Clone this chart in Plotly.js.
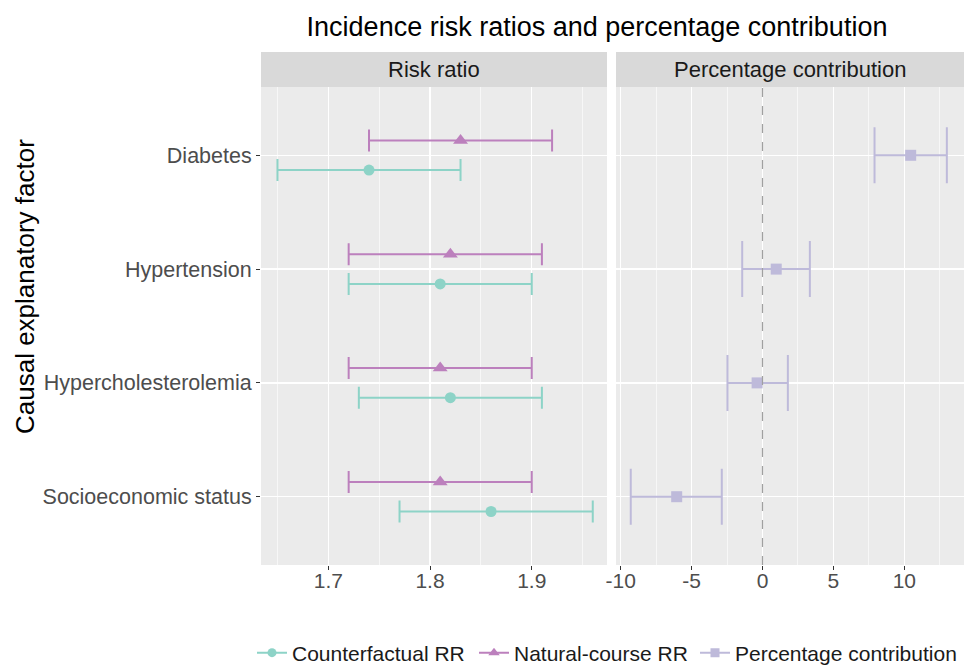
<!DOCTYPE html>
<html><head><meta charset="utf-8">
<script src="https://cdn.plot.ly/plotly-3.0.1.min.js"></script>
<style>html,body{margin:0;padding:0;background:#fff}#chart{width:971px;height:665px}</style>
</head><body><div id="chart"></div>
<script>
// ---- data ----
const categories = ["Diabetes", "Hypertension", "Hypercholesterolemia", "Socioeconomic status"];
const cfRR   = [1.74, 1.81, 1.82, 1.86];
const cfLow  = [1.65, 1.72, 1.73, 1.77];
const cfHigh = [1.83, 1.90, 1.91, 1.96];
const ncRR   = [1.83, 1.82, 1.81, 1.81];
const ncLow  = [1.74, 1.72, 1.72, 1.72];
const ncHigh = [1.92, 1.91, 1.90, 1.90];
const pct     = [10.45, 0.97, -0.38, -6.05];
const pctLow  = [7.9, -1.43, -2.47, -9.29];
const pctHigh = [13.0, 3.34, 1.79, -2.87];
const rrTicks  = [1.7, 1.8, 1.9];
const pctTicks = [-10, -5, 0, 5, 10];
const seriesNames = ["Counterfactual RR", "Natural-course RR", "Percentage contribution"];
const panelNames = ["Risk ratio", "Percentage contribution"];

// ---- styling ----
const FONT = '"Liberation Sans", Arial, Helvetica, sans-serif';
const C_CF = '#8DD3C7', C_NC = '#BC80BD', C_PC = '#BEBADA';
const DODGE = 0.13;
const pos = categories.map((c, i) => categories.length - i);
const minus = (a, b) => a.map((v, i) => +(v - b[i]).toFixed(4));
function minorVals(t) {
  const step = t[1] - t[0];
  const out = [t[0] - step / 2];
  for (let i = 0; i < t.length; i++) out.push(t[i] + step / 2);
  return out;
}

const traces = [
  { type: 'scatter', mode: 'markers', name: seriesNames[1], showlegend: false,
    x: ncRR, y: pos.map(p => p + DODGE), xaxis: 'x', yaxis: 'y',
    marker: { symbol: 'triangle-up', size: 13, color: C_NC },
    error_x: { type: 'data', symmetric: false, array: minus(ncHigh, ncRR), arrayminus: minus(ncRR, ncLow),
               color: C_NC, thickness: 2, width: 11 } },
  { type: 'scatter', mode: 'markers', name: seriesNames[0], showlegend: false,
    x: cfRR, y: pos.map(p => p - DODGE), xaxis: 'x', yaxis: 'y',
    marker: { symbol: 'circle', size: 11, color: C_CF },
    error_x: { type: 'data', symmetric: false, array: minus(cfHigh, cfRR), arrayminus: minus(cfRR, cfLow),
               color: C_CF, thickness: 2, width: 11 } },
  { type: 'scatter', mode: 'markers', name: seriesNames[2], showlegend: false,
    x: pct, y: pos, xaxis: 'x2', yaxis: 'y',
    marker: { symbol: 'square', size: 11, color: C_PC },
    error_x: { type: 'data', symmetric: false, array: minus(pctHigh, pct), arrayminus: minus(pct, pctLow),
               color: C_PC, thickness: 2, width: 28 } },
  // legend entries (one legend box each, placed like the ggplot legend keys)
  { type: 'scatter', mode: 'lines+markers', name: seriesNames[0], x: [null], y: [null], xaxis: 'x', yaxis: 'y',
    legend: 'legend', line: { color: C_CF, width: 2 }, marker: { symbol: 'circle', size: 9, color: C_CF } },
  { type: 'scatter', mode: 'lines+markers', name: seriesNames[1], x: [null], y: [null], xaxis: 'x', yaxis: 'y',
    legend: 'legend2', line: { color: C_NC, width: 2 }, marker: { symbol: 'triangle-up', size: 10, color: C_NC } },
  { type: 'scatter', mode: 'lines+markers', name: seriesNames[2], x: [null], y: [null], xaxis: 'x', yaxis: 'y',
    legend: 'legend3', line: { color: C_PC, width: 2 }, marker: { symbol: 'square', size: 9, color: C_PC } }
];

const H_PLOT = 665 - 87 - 100;
const stripH = 35 / H_PLOT;

const xBase = {
  showline: false, zeroline: false, ticks: 'outside', ticklen: 4, tickwidth: 1, tickcolor: '#333',
  gridcolor: '#FFFFFF', gridwidth: 1.3, showgrid: true, anchor: 'y', automargin: false,
  ticklabelstandoff: -7,
  tickfont: { family: FONT, size: 21, color: '#4D4D4D' }, fixedrange: true
};

function legendAt(px) {
  return { orientation: 'h', xref: 'container', yref: 'container', x: px / 971, xanchor: 'left',
           y: 1 - 653 / 665, yanchor: 'middle',
           font: { family: FONT, size: 21, color: '#1A1A1A' }, bgcolor: 'rgba(0,0,0,0)', borderwidth: 0,
           itemwidth: 30 };
}

const layout = {
  width: 971, height: 665,
  margin: { l: 261, r: 7, t: 87, b: 100, pad: 0, autoexpand: false },
  paper_bgcolor: '#FFFFFF', plot_bgcolor: '#EBEBEB',
  font: { family: FONT, color: '#1A1A1A' },
  title: { text: 'Incidence risk ratios and percentage contribution', font: { family: FONT, size: 27, color: '#000' },
           x: 597 / 971, xanchor: 'center', xref: 'container', y: 1 - 27 / 665, yanchor: 'middle', yref: 'container' },
  xaxis: Object.assign({}, xBase, {
    domain: [0, 346 / 703], range: [1.6338, 1.974],
    tickmode: 'array', tickvals: rrTicks, ticktext: rrTicks.map(v => v.toFixed(1)),
    minor: { tickmode: 'array', tickvals: minorVals(rrTicks), showgrid: true, gridcolor: '#FFFFFF', gridwidth: 0.6, ticks: '' }
  }),
  xaxis2: Object.assign({}, xBase, {
    domain: [355 / 703, 1], range: [-10.33, 14.21],
    tickmode: 'array', tickvals: pctTicks, ticktext: pctTicks.map(String),
    minor: { tickmode: 'array', tickvals: minorVals(pctTicks), showgrid: true, gridcolor: '#FFFFFF', gridwidth: 0.6, ticks: '' }
  }),
  yaxis: {
    range: [0.4, 4.6], tickmode: 'array', tickvals: pos, ticktext: categories,
    ticks: 'outside', ticklen: 4, tickcolor: '#333', showline: false, zeroline: false,
    gridcolor: '#FFFFFF', gridwidth: 1.3, showgrid: true, automargin: false,
    tickfont: { family: FONT, size: 21.5, color: '#4D4D4D' }, fixedrange: true, anchor: 'x'
  },
  showlegend: true,
  legend: legendAt(252),
  legend2: legendAt(474),
  legend3: legendAt(695),
  shapes: [
    { type: 'rect', xref: 'x domain', yref: 'paper', x0: 0, x1: 1, y0: 1, y1: 1 + stripH,
      fillcolor: '#D9D9D9', line: { width: 0 }, layer: 'below' },
    { type: 'rect', xref: 'x2 domain', yref: 'paper', x0: 0, x1: 1, y0: 1, y1: 1 + stripH,
      fillcolor: '#D9D9D9', line: { width: 0 }, layer: 'below' },
    { type: 'line', xref: 'x2', yref: 'paper', x0: 0, x1: 0, y0: 0, y1: 1,
      line: { color: '#A0A0A0', width: 1.2, dash: 'dash' }, layer: 'above' }
  ],
  annotations: [
    { text: panelNames[0], xref: 'x domain', yref: 'paper', x: 0.5, y: 1 + stripH / 2, xanchor: 'center', yanchor: 'middle',
      showarrow: false, font: { family: FONT, size: 22, color: '#1A1A1A' } },
    { text: panelNames[1], xref: 'x2 domain', yref: 'paper', x: 0.5, y: 1 + stripH / 2, xanchor: 'center', yanchor: 'middle',
      showarrow: false, font: { family: FONT, size: 22, color: '#1A1A1A' } },
    { text: 'Causal explanatory factor', xref: 'paper', yref: 'paper', x: (25 - 261) / 703, y: (565 - 287) / H_PLOT,
      xanchor: 'center', yanchor: 'middle', textangle: -90, showarrow: false,
      font: { family: FONT, size: 26, color: '#000' } }
  ]
};

Plotly.newPlot('chart', traces, layout, { displayModeBar: false, staticPlot: true });
</script>
</body></html>
